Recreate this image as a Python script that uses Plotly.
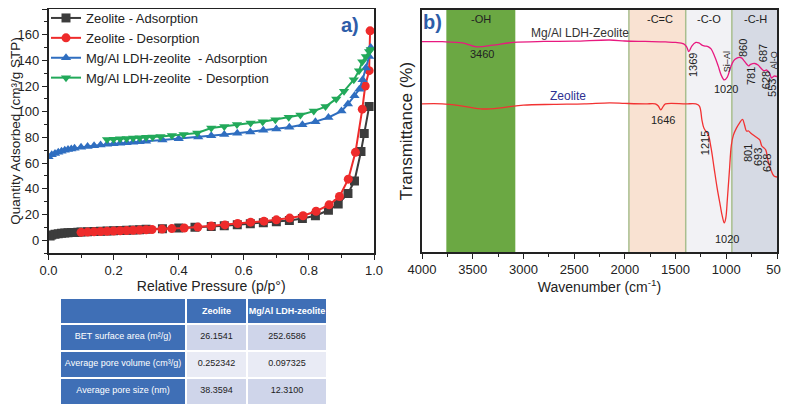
import plotly.graph_objects as go

# ---------------- Panel a: N2 isotherms ----------------
zeo_ads_x = [0.005, 0.01, 0.02, 0.03, 0.04, 0.05, 0.06, 0.07, 0.08, 0.09, 0.10, 0.12, 0.14, 0.16, 0.18,
             0.20, 0.22, 0.24, 0.26, 0.28, 0.30, 0.35, 0.40, 0.45, 0.50, 0.54, 0.58, 0.62, 0.66, 0.70,
             0.74, 0.78, 0.82, 0.86, 0.89, 0.92, 0.94, 0.96, 0.97, 0.985]
zeo_ads_y = [3.2, 4.0, 4.6, 5.0, 5.3, 5.5, 5.7, 5.9, 6.0, 6.2, 6.3, 6.6, 6.8, 7.0, 7.2,
             7.4, 7.6, 7.8, 8.0, 8.2, 8.4, 8.9, 9.4, 10.0, 10.6, 11.3, 12.0, 12.7, 13.5, 14.3,
             15.3, 16.8, 19.0, 23.3, 28.2, 36.3, 46.0, 69.0, 83.0, 104.0]

zeo_des_x = [0.988, 0.985, 0.973, 0.964, 0.943, 0.921, 0.894, 0.862, 0.822, 0.782, 0.741, 0.70, 0.662,
             0.621, 0.581, 0.542, 0.50, 0.459, 0.417, 0.379, 0.349, 0.318, 0.30, 0.28, 0.26, 0.24,
             0.22, 0.20, 0.18, 0.16, 0.14, 0.12, 0.10]
zeo_des_y = [163.0, 132.0, 120.0, 102.0, 68.4, 47.5, 34.0, 27.5, 22.5, 19.0, 17.2, 15.8, 14.8,
             14.0, 13.0, 11.9, 11.0, 10.2, 9.5, 9.0, 8.6, 8.3, 8.1, 7.9, 7.7, 7.5,
             7.3, 7.1, 6.9, 6.7, 6.5, 6.3, 6.1]

ldh_ads_x = [0.0, 0.01, 0.02, 0.03, 0.04, 0.05, 0.06, 0.07, 0.08, 0.10, 0.12, 0.14, 0.16, 0.18, 0.20,
             0.22, 0.24, 0.26, 0.28, 0.30, 0.35, 0.40, 0.46, 0.50, 0.54, 0.58, 0.62, 0.66, 0.70,
             0.74, 0.78, 0.82, 0.86, 0.90, 0.92, 0.94, 0.955, 0.965, 0.975, 0.985, 0.99]
ldh_ads_y = [65.0, 66.5, 67.5, 68.5, 69.3, 70.0, 70.5, 71.0, 71.5, 72.3, 73.0, 73.6, 74.1, 74.6, 75.0,
             75.5, 75.9, 76.3, 76.7, 77.1, 78.0, 79.0, 80.3, 81.3, 82.2, 83.2, 84.3, 85.5, 86.6,
             88.0, 89.8, 92.3, 95.5, 100.5, 106.0, 112.5, 117.5, 125.0, 134.0, 143.0, 150.0]

ldh_des_x = [0.99, 0.985, 0.975, 0.964, 0.954, 0.938, 0.908, 0.884, 0.851, 0.815, 0.774, 0.738, 0.697,
             0.658, 0.621, 0.579, 0.54, 0.50, 0.457, 0.415, 0.379, 0.344, 0.32, 0.30, 0.28, 0.26,
             0.24, 0.22, 0.20, 0.18]
ldh_des_y = [148.5, 147.0, 143.0, 139.0, 132.0, 125.0, 116.0, 110.0, 104.0, 100.5, 97.5, 95.8, 93.8,
             92.2, 91.2, 90.0, 88.6, 87.3, 83.4, 82.2, 81.4, 80.8, 80.4, 80.1, 79.8, 79.5,
             79.2, 78.9, 78.6, 78.3]

series_names = ["Zeolite - Adsorption", "Zeolite - Desorption",
                "Mg/Al LDH-zeolite\u00a0\u00a0- Adsorption", "Mg/Al LDH-zeolite\u00a0\u00a0- Desorption"]

# ---------------- Panel b: FTIR ----------------
ldh_wn = [4000, 3800, 3600, 3460, 3300, 3100, 2800, 2500, 2150, 2000, 1800, 1600, 1500, 1420, 1390,
          1369, 1340, 1300, 1270, 1240, 1210, 1180, 1150, 1120, 1080, 1050, 1020, 990, 960, 930,
          900, 870, 850, 830, 800, 781, 760, 720, 687, 660, 628, 600, 575, 553, 530, 500]
ldh_t = [86.9, 86.9, 86.4, 84.8, 85.5, 86.6, 87.0, 87.1, 87.6, 87.2, 87.0, 86.8, 86.6, 86.0, 84.7,
         82.8, 85.1, 86.6, 86.4, 85.5, 85.1, 84.9, 83.9, 81.4, 76.9, 73.1, 71.1, 72.3, 76.0, 78.9,
         80.0, 80.4, 80.2, 79.3, 77.7, 76.9, 77.5, 77.9, 77.3, 76.0, 74.9, 75.2, 74.0, 71.9, 72.7, 72.5]

zeo_wn = [4000, 3800, 3600, 3400, 3200, 3000, 2700, 2400, 2150, 2000, 1800, 1700, 1670, 1646, 1620,
          1600, 1400, 1300, 1265, 1240, 1225, 1210, 1180, 1150, 1120, 1090, 1060, 1040, 1020, 1005,
          990, 970, 950, 930, 900, 870, 840, 820, 801, 780, 760, 720, 693, 670, 650, 628, 610,
          590, 560, 530, 500]
zeo_t = [61.2, 61.2, 60.3, 59.1, 59.7, 60.7, 61.0, 61.2, 61.6, 61.4, 61.2, 61.2, 60.3, 58.7, 60.3,
         61.2, 61.2, 61.2, 60.3, 54.5, 51.7, 50.4, 48.8, 43.0, 34.7, 26.4, 19.4, 14.9, 12.0, 14.0,
         21.5, 33.1, 44.2, 48.3, 51.2, 53.3, 54.8, 52.5, 50.0, 50.0, 49.2, 47.9, 47.1, 46.3, 43.8, 43.0, 42.1,
         38.0, 33.9, 31.4, 31.0]

region_spans = [(3760, 3080), (1960, 1400), (1400, 945), (945, 500)]
region_labels = ["-OH", "-C=C", "-C-O", "-C-H"]
region_label_x = [3420, 1650, 1170, 715]

# ---------------- Table ----------------
NB = "\u00a0"
table_header = ["", "<b>Zeolite</b>", "<b>Mg/Al" + NB + "LDH-zeolite</b>"]
table_props = ["BET surface area (m\u00b2/g)", "Average pore volume (cm\u00b3/g)", "Average pore size (nm)"]
table_zeolite = ["26.1541", "0.252342", "38.3594"]
table_ldh = ["252.6586", "0.097325", "12.3100"]

FONT = "Liberation Sans, Arial, sans-serif"

# the page body has an 8 px margin: convert page pixels to paper fractions
W, H, OFF = 789, 410, 8


def PX(p):
    return (p - OFF) / W


def PY(p):
    return 1 - (p - OFF) / H


fig = go.Figure()

cols = ["#3C3C3C", "#EE2B2B", "#2F6EC0", "#22A95A"]
syms = ["square", "circle", "triangle-up", "triangle-down"]
xs = [zeo_ads_x, zeo_des_x, ldh_ads_x, ldh_des_x]
ys = [zeo_ads_y, zeo_des_y, ldh_ads_y, ldh_des_y]
for name, c, s, x, y in zip(series_names, cols, syms, xs, ys):
    fig.add_trace(go.Scatter(x=x, y=y, name=name, mode="lines+markers",
                             line=dict(color=c, width=2),
                             marker=dict(symbol=s, size=9, color=c),
                             xaxis="x", yaxis="y"))

fig.add_trace(go.Scatter(x=ldh_wn, y=ldh_t, mode="lines", line=dict(color="#E8197F", width=1.3, shape="spline"),
                         showlegend=False, xaxis="x2", yaxis="y2"))
fig.add_trace(go.Scatter(x=zeo_wn, y=zeo_t, mode="lines", line=dict(color="#F23232", width=1.3, shape="spline"),
                         showlegend=False, xaxis="x2", yaxis="y2"))

fig.add_trace(go.Table(
    domain=dict(x=[PX(60), PX(327)], y=[PY(408), PY(298)]),
    columnwidth=[126, 61, 80],
    header=dict(values=table_header, fill_color="#3F6FB6", line=dict(color="white", width=2),
                font=dict(color="white", size=9, family=FONT), align="center", height=26),
    cells=dict(values=[[t.replace(" ", NB) for t in table_props], table_zeolite, table_ldh],
               fill_color=[["#3F6FB6"] * 3, ["#CFD5EA", "#E9EBF5", "#CFD5EA"], ["#CFD5EA", "#E9EBF5", "#CFD5EA"]],
               line=dict(color="white", width=2),
               font=dict(color=[["white"] * 3, ["#222"] * 3, ["#222"] * 3], size=9, family=FONT),
               align="center", height=27)))

shapes = []
fills = ["#6BA843", "#F9E2D2", "#F2F2F5", "#D6DAE4"]
for (x0, x1), fc in zip(region_spans, fills):
    shapes.append(dict(type="rect", xref="x2", yref="y2 domain", x0=x0, x1=x1, y0=0, y1=1,
                       fillcolor=fc, line=dict(width=0), layer="below"))
for xe in [1960, 1400, 945]:
    shapes.append(dict(type="line", xref="x2", yref="y2 domain", x0=xe, x1=xe, y0=0, y1=1,
                       line=dict(color="#A9BE8E", width=1.5), layer="below"))

ann = []
for lab, lx in zip(region_labels, region_label_x):
    ann.append(dict(x=lx, y=96.3, xref="x2", yref="y2", text=lab, showarrow=False,
                    font=dict(size=11, color="#222", family=FONT)))

peak_h = [("3460", 3408, 81.8), ("1020", 1002, 67.4), ("1646", 1623, 54.5), ("1020", 993, 5.4)]
for t, x, y in peak_h:
    ann.append(dict(x=x, y=y, xref="x2", yref="y2", text=t, showarrow=False,
                    font=dict(size=11, color="#222", family=FONT)))
peak_v = [("1369", 1327, 77.3, 11), ("Si\u2013Al", 992, 78.5, 9), ("860", 834, 84.3, 11), ("687", 637, 82.2, 11),
          ("781", 756, 72.7, 11), ("628", 608, 71.0, 11), ("553", 549, 67.8, 11), ("Al-O", 529, 79.3, 9),
          ("1215", 1209, 45.0, 11), ("801", 785, 40.9, 11), ("693", 686, 39.3, 11), ("628", 598, 36.8, 11)]
for t, x, y, fs in peak_v:
    ann.append(dict(x=x, y=y, xref="x2", yref="y2", text=t, showarrow=False, textangle=-90,
                    font=dict(size=fs, color="#222", family=FONT)))
ann.append(dict(x=2442, y=90.5, xref="x2", yref="y2", text="Mg/Al LDH-Zeolite", showarrow=False,
                font=dict(size=12, color="#333", family=FONT)))
ann.append(dict(x=2560, y=64.3, xref="x2", yref="y2", text="Zeolite", showarrow=False,
                font=dict(size=12, color="#2E3192", family=FONT)))
ann.append(dict(x=PX(350), y=PY(25), xref="paper", yref="paper", text="<b>a)</b>", showarrow=False,
                xanchor="center", yanchor="middle", font=dict(size=20, color="#2E5DA8", family=FONT)))
ann.append(dict(x=PX(432), y=PY(22), xref="paper", yref="paper", text="<b>b)</b>", showarrow=False,
                xanchor="center", yanchor="middle", font=dict(size=20, color="#2E5DA8", family=FONT)))

axis_common = dict(showline=True, linecolor="#222", linewidth=1.5, mirror=True, showgrid=False, zeroline=False,
                   automargin=False,
                   ticks="outside", ticklen=5, tickcolor="#222", tickfont=dict(size=13, family=FONT, color="#222"))

fig.update_layout(
    width=W, height=H, margin=dict(l=0, r=0, t=0, b=0, autoexpand=False),
    paper_bgcolor="white", plot_bgcolor="white",
    font=dict(family=FONT, color="#222"),
    xaxis=dict(domain=[PX(48.5), PX(374)], range=[0, 1.0], dtick=0.2, tickformat=".1f",
               title=dict(text="Relative Pressure (p/p\u00b0)", font=dict(size=14), standoff=4),
               minor=dict(ticks="outside", ticklen=3, dtick=0.1, tickcolor="#222"), **axis_common),
    yaxis=dict(domain=[PY(253), PY(9)], range=[-10, 180], dtick=20,
               title=dict(text="Quantity Adsorbed (cm\u00b3/g STP)", font=dict(size=13.5), standoff=6),
               minor=dict(ticks="outside", ticklen=3, dtick=10, tickcolor="#222"), **axis_common),
    xaxis2=dict(domain=[PX(422), PX(777)], range=[4000, 500], dtick=500, anchor="y2",
                title=dict(text="Wavenumber (cm<sup>-1</sup>)", font=dict(size=14), standoff=4),
                minor=dict(ticks="outside", ticklen=3, dtick=250, tickcolor="#222"), **axis_common),
    yaxis2=dict(domain=[PY(252), PY(10)], range=[0, 100], anchor="x2", showticklabels=False,
                title=dict(text="Transmittance (%)", font=dict(size=17), standoff=3),
                showline=True, linecolor="#222", linewidth=1.5, mirror=True, showgrid=False, zeroline=False,
                automargin=False, ticks=""),
    legend=dict(x=PX(46), y=PY(3), xanchor="left", yanchor="top", bgcolor="rgba(0,0,0,0)",
                font=dict(size=13, family=FONT, color="#222"), itemwidth=30, tracegroupgap=0),
    shapes=shapes, annotations=ann,
)

fig.write_html("out.html")
